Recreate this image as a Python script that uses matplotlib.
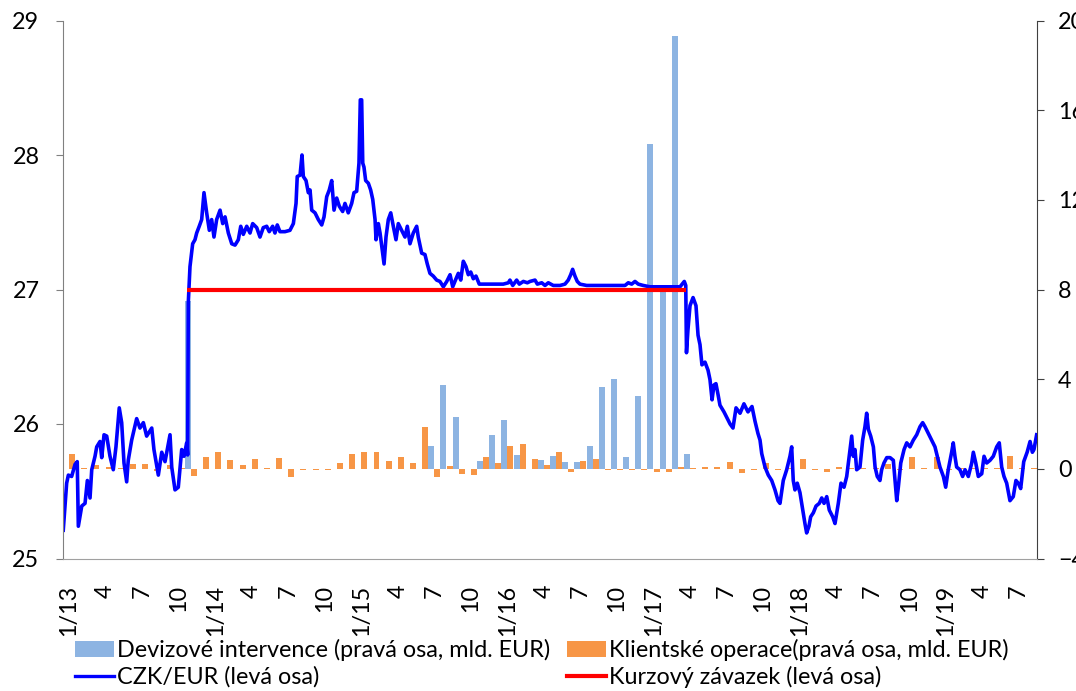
import matplotlib
matplotlib.use("Agg")
import matplotlib.pyplot as plt
import numpy as np
from matplotlib.patches import Patch
from matplotlib.lines import Line2D

plt.rcParams['font.family'] = ['Lato', 'DejaVu Sans']

# ---- data -------------------------------------------------------------
# 80 monthly categories, Jan 2013 .. Aug 2019
n_months = 80
tick_pos = list(range(0, 80, 3))
tick_labels = ['1/13', '4', '7', '10', '1/14', '4', '7', '10', '1/15', '4', '7', '10',
               '1/16', '4', '7', '10', '1/17', '4', '7', '10', '1/18', '4', '7', '10',
               '1/19', '4', '7']

# Devizové intervence (bn EUR), by month index
interventions = {10: 7.47, 30: 1.04, 31: 3.75, 32: 2.31, 34: 0.36, 35: 1.53, 36: 2.17,
                 37: 0.62, 39: 0.40, 40: 0.58, 41: 0.31, 42: 0.31, 43: 1.04, 44: 3.67,
                 45: 3.99, 46: 0.51, 47: 3.26, 48: 14.5, 49: 8.1, 50: 19.3, 51: 0.64}

# Klientské operace (bn EUR), Jan 2013 .. Aug 2019
client_ops = [0.68, 0.05, 0.15, 0.10, 0.05, 0.20, 0.20, -0.10, 0.15, 0.05,
              -0.31, 0.51, 0.73, 0.40, 0.18, 0.46, 0.03, 0.48, -0.38, -0.05,
              -0.05, -0.05, 0.25, 0.66, 0.73, 0.73, 0.35, 0.51, 0.27, 1.85,
              -0.36, 0.13, -0.22, -0.27, 0.55, 0.27, 1.00, 1.13, 0.45, 0.17,
              0.73, -0.12, 0.36, 0.42, -0.07, -0.05, -0.05, -0.05, -0.13, -0.13,
              0.10, 0.03, 0.07, 0.10, 0.31, -0.20, -0.05, 0.25, -0.05, 0.05,
              0.42, -0.03, -0.13, 0.10, 0.02, 0.05, 0.03, 0.20, -0.05, 0.51,
              0.02, 0.51, -0.05, 0.05, 0.05, 0.05, 0.05, 0.58, 0.02, 0.05]

# CZK/EUR: (months since 1 Jan 2013, rate)
czk_eur = [
    (0.02, 25.21), (0.30, 25.56), (0.44, 25.62), (0.71, 25.61), (0.99, 25.70), (1.17, 25.72),
    (1.26, 25.24), (1.54, 25.39), (1.81, 25.41), (2.00, 25.58), (2.22, 25.45), (2.36, 25.66),
    (2.63, 25.76), (2.77, 25.83), (3.04, 25.87), (3.18, 25.75), (3.37, 25.92), (3.59, 25.91),
    (3.86, 25.76), (4.13, 25.66), (4.35, 25.83), (4.62, 26.12), (4.82, 26.01), (5.01, 25.71),
    (5.23, 25.57), (5.36, 25.73), (5.64, 25.88), (6.05, 26.04), (6.32, 25.97), (6.60, 26.01),
    (6.87, 25.91), (7.29, 25.97), (7.47, 25.81), (7.83, 25.62), (8.11, 25.79), (8.38, 25.72),
    (8.79, 25.92), (8.93, 25.68), (9.20, 25.51), (9.47, 25.53), (9.75, 25.81), (9.94, 25.76),
    (10.16, 25.86), (10.24, 25.77), (10.29, 26.90), (10.43, 27.17), (10.65, 27.34),
    (10.84, 27.37), (10.98, 27.42), (11.19, 27.47), (11.39, 27.52), (11.58, 27.72),
    (11.80, 27.57), (12.02, 27.44), (12.21, 27.52), (12.40, 27.39), (12.62, 27.52),
    (12.90, 27.59), (13.12, 27.49), (13.31, 27.54), (13.58, 27.42), (13.86, 27.34),
    (14.13, 27.33), (14.40, 27.37), (14.60, 27.47), (14.81, 27.41), (15.09, 27.47),
    (15.36, 27.42), (15.58, 27.49), (15.91, 27.46), (16.18, 27.39), (16.45, 27.46),
    (16.73, 27.47), (16.94, 27.43), (17.22, 27.47), (17.41, 27.42), (17.60, 27.48),
    (17.82, 27.43), (18.23, 27.43), (18.64, 27.44), (18.92, 27.49), (19.14, 27.64),
    (19.24, 27.84), (19.47, 27.85), (19.63, 28.00), (19.74, 27.84), (19.96, 27.81),
    (20.15, 27.72), (20.29, 27.74), (20.43, 27.59), (20.70, 27.57), (20.97, 27.52),
    (21.25, 27.48), (21.44, 27.54), (21.66, 27.69), (21.87, 27.74), (22.07, 27.81),
    (22.26, 27.59), (22.48, 27.68), (22.69, 27.62), (22.97, 27.58), (23.16, 27.64),
    (23.43, 27.57), (23.71, 27.64), (23.90, 27.72), (24.12, 27.73), (24.31, 27.94),
    (24.42, 28.41), (24.53, 28.41), (24.62, 27.94), (24.72, 27.91), (24.86, 27.81),
    (25.08, 27.79), (25.27, 27.74), (25.44, 27.67), (25.63, 27.52), (25.71, 27.37),
    (25.90, 27.49), (26.04, 27.42), (26.23, 27.29), (26.37, 27.19), (26.53, 27.39),
    (26.72, 27.52), (26.92, 27.57), (27.13, 27.47), (27.35, 27.37), (27.54, 27.49),
    (27.82, 27.44), (28.09, 27.39), (28.28, 27.47), (28.50, 27.34), (28.77, 27.42),
    (29.05, 27.47), (29.18, 27.39), (29.46, 27.27), (29.73, 27.26), (29.92, 27.19),
    (30.14, 27.12), (30.41, 27.10), (30.69, 27.07), (30.96, 27.06), (31.24, 27.02),
    (31.52, 27.06), (31.79, 27.11), (32.01, 27.02), (32.28, 27.08), (32.47, 27.12),
    (32.67, 27.07), (32.88, 27.21), (33.10, 27.17), (33.29, 27.11), (33.49, 27.13),
    (33.70, 27.08), (33.92, 27.10), (34.19, 27.04), (34.52, 27.04), (35.07, 27.04),
    (35.62, 27.04), (36.16, 27.04), (36.58, 27.05), (36.71, 27.07), (36.94, 27.03),
    (37.26, 27.07), (37.48, 27.04), (37.81, 27.06), (38.14, 27.05), (38.36, 27.06),
    (38.77, 27.07), (38.96, 27.04), (39.32, 27.05), (39.59, 27.03), (39.86, 27.05),
    (40.27, 27.03), (40.82, 27.03), (41.23, 27.04), (41.50, 27.07), (41.70, 27.11),
    (41.86, 27.15), (42.05, 27.10), (42.24, 27.06), (42.46, 27.04), (43.01, 27.03),
    (43.84, 27.03), (44.66, 27.03), (45.48, 27.03), (46.16, 27.03), (46.43, 27.05),
    (46.71, 27.04), (46.98, 27.06), (47.25, 27.04), (47.66, 27.03), (48.21, 27.02),
    (49.59, 27.02), (50.68, 27.02), (51.03, 27.06), (51.15, 27.03), (51.21, 26.53),
    (51.33, 26.70), (51.50, 26.88), (51.75, 26.94), (51.99, 26.88), (52.16, 26.66),
    (52.32, 26.59), (52.48, 26.44), (52.73, 26.46), (52.98, 26.40), (53.14, 26.33),
    (53.31, 26.18), (53.47, 26.29), (53.63, 26.30), (53.80, 26.22), (53.96, 26.14),
    (54.29, 26.09), (54.62, 26.03), (54.79, 26.00), (55.03, 25.97), (55.28, 26.12),
    (55.61, 26.08), (55.93, 26.15), (56.26, 26.09), (56.59, 26.13), (56.84, 26.02),
    (57.08, 25.93), (57.25, 25.88), (57.39, 25.78), (57.66, 25.68), (57.93, 25.62),
    (58.21, 25.58), (58.48, 25.51), (58.73, 25.43), (58.89, 25.41), (59.16, 25.58),
    (59.44, 25.66), (59.71, 25.76), (59.85, 25.83), (59.98, 25.58), (60.12, 25.51),
    (60.31, 25.56), (60.53, 25.49), (60.76, 25.36), (60.94, 25.26), (61.08, 25.19),
    (61.27, 25.24), (61.41, 25.31), (61.63, 25.34), (61.85, 25.39), (62.12, 25.41),
    (62.32, 25.45), (62.51, 25.41), (62.73, 25.46), (62.94, 25.36), (63.22, 25.31),
    (63.41, 25.26), (63.68, 25.41), (63.90, 25.56), (64.15, 25.53), (64.37, 25.61),
    (64.64, 25.81), (64.78, 25.91), (64.91, 25.76), (65.05, 25.81), (65.19, 25.66),
    (65.46, 25.68), (65.68, 25.88), (65.87, 25.98), (66.01, 26.08), (66.15, 25.96),
    (66.34, 25.91), (66.56, 25.83), (66.70, 25.68), (66.88, 25.61), (67.10, 25.58),
    (67.24, 25.66), (67.43, 25.71), (67.66, 25.75), (67.93, 25.75), (68.20, 25.73),
    (68.34, 25.58), (68.48, 25.43), (68.61, 25.53), (68.81, 25.71), (69.08, 25.81),
    (69.30, 25.86), (69.57, 25.83), (69.84, 25.88), (70.12, 25.92), (70.39, 25.98),
    (70.61, 26.01), (70.80, 25.98), (71.07, 25.93), (71.35, 25.88), (71.62, 25.83),
    (71.81, 25.76), (72.03, 25.68), (72.31, 25.61), (72.50, 25.53), (72.71, 25.66),
    (72.99, 25.79), (73.12, 25.86), (73.26, 25.76), (73.40, 25.68), (73.67, 25.66),
    (73.89, 25.61), (74.09, 25.66), (74.36, 25.61), (74.64, 25.71), (74.77, 25.79),
    (74.97, 25.71), (75.18, 25.61), (75.46, 25.63), (75.65, 25.76), (75.87, 25.71),
    (76.14, 25.73), (76.41, 25.76), (76.69, 25.83), (76.90, 25.86), (77.10, 25.68),
    (77.29, 25.61), (77.51, 25.56), (77.78, 25.43), (78.05, 25.46), (78.27, 25.58),
    (78.46, 25.56), (78.66, 25.52), (78.91, 25.72), (79.19, 25.79), (79.43, 25.87),
    (79.62, 25.79), (79.75, 25.81), (79.97, 25.92),
]

# Kurzový závazek: 27 CZK/EUR from 7 Nov 2013 to 6 Apr 2017 (months since 1 Jan 2013)
commit_level = 27.0
commit_start = 10 + 6 / 30
commit_end = 51 + 5 / 30

labels = ['Devizové intervence (pravá osa, mld. EUR)', 'CZK/EUR (levá osa)',
          'Klientské operace(pravá osa, mld. EUR)', 'Kurzový závazek (levá osa)']

# ---- styling ---------------------------------------------------------
C_INT = '#8DB4E2'
C_CLI = '#F79646'
C_LINE = '#0000FF'
C_COMMIT = '#FF0000'
FS = 16.8

W, H = 1076, 691
fig = plt.figure(figsize=(W / 100, H / 100), dpi=100)
x0, x1, y0, y1 = 63, 1037, 20.5, 558.5
ax = fig.add_axes([x0 / W, 1 - y1 / H, (x1 - x0) / W, (y1 - y0) / H])
ax2 = ax.twinx()
ax.set_zorder(ax2.get_zorder() + 1)
ax.patch.set_visible(False)

idx = np.arange(n_months)
interv = np.array([interventions.get(i, 0.0) for i in idx])
bw = 0.49
ax2.bar(idx - 0.25, interv, width=bw, color=C_INT, linewidth=0)
ax2.bar(idx + 0.25, client_ops, width=bw, color=C_CLI, linewidth=0)

t = np.array([p[0] for p in czk_eur])
v = np.array([p[1] for p in czk_eur])
ax.plot(t - 0.5, v, color=C_LINE, lw=2.6, solid_joinstyle='round')
ax.plot([commit_start - 0.5, commit_end - 0.5], [commit_level, commit_level],
        color=C_COMMIT, lw=3.0, solid_capstyle='butt')

ax.set_xlim(-0.5, n_months - 0.5)
ax.set_ylim(25, 29)
ax.set_yticks([25, 26, 27, 28, 29])
ax2.set_ylim(-4, 20)
ax2.set_yticks([-4, 0, 4, 8, 12, 16, 20])

ax.set_xticks(tick_pos)
ax.set_xticklabels(tick_labels, rotation=90, fontsize=FS)
ax.tick_params(axis='x', length=0, pad=19)
ax.tick_params(axis='y', direction='out', length=5, color='#808080', pad=12, labelsize=FS)
ax2.tick_params(axis='y', direction='out', length=5, color='#404040', pad=10, labelsize=FS)

for s in ['top', 'right']:
    ax.spines[s].set_visible(False)
for s in ['top', 'left', 'bottom']:
    ax2.spines[s].set_visible(False)
ax.spines['left'].set_color('#808080')
ax.spines['bottom'].set_color('#a0a0a0')
ax2.spines['right'].set_color('#404040')

h_int = Patch(facecolor=C_INT, edgecolor='none')
h_cli = Patch(facecolor=C_CLI, edgecolor='none')
h_line = Line2D([], [], color=C_LINE, lw=2.4)
h_com = Line2D([], [], color=C_COMMIT, lw=3.0)

common = dict(loc='upper left', frameon=False, fontsize=FS, handlelength=1.65,
              handletextpad=0.15, labelspacing=0.22, borderaxespad=0, borderpad=0)
fig.legend([h_int, h_line], labels[:2], bbox_to_anchor=(75 / W, 1 - 639 / H), **common)
fig.legend([h_cli, h_com], labels[2:], bbox_to_anchor=(567 / W, 1 - 639 / H), **common)

fig.savefig('out.png', dpi=100)
